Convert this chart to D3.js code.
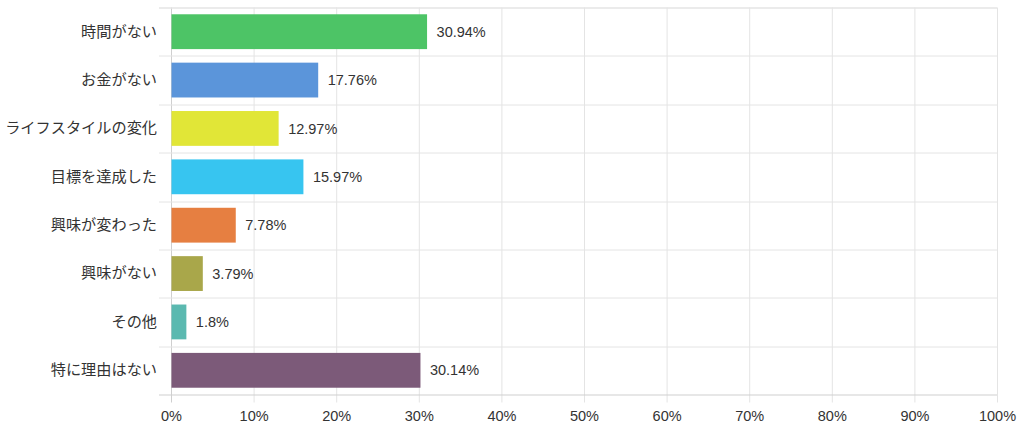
<!DOCTYPE html>
<html>
<head>
<meta charset="utf-8">
<script src="https://cdn.jsdelivr.net/npm/d3@7"></script>
<style>
  body { margin: 0; background: #fff; }
  text { font-family: "Liberation Sans", Arial, "Noto Sans CJK JP", sans-serif; fill: #333; }
  .cat text { font-family: "Noto Sans CJK JP", sans-serif; }
</style>
</head>
<body>
<div id="chart"></div>
<script>
// Data
const categories = ['時間がない', 'お金がない', 'ライフスタイルの変化', '目標を達成した', '興味が変わった', '興味がない', 'その他', '特に理由はない']
const values = [30.94, 17.76, 12.97, 15.97, 7.78, 3.79, 1.8, 30.14]
const colors = ['#4dc466', '#5b95da', '#e1e637', '#37c5f0', '#e67f41', '#a9a74a', '#5bb9b0', '#7c5a79']
const tickValues = [0, 10, 20, 30, 40, 50, 60, 70, 80, 90, 100]

async function draw(){
    const data = categories.map((c, i) => ({cat: c, value: values[i], color: colors[i]}))

    // Dimensions
    let dimensions = {
        width: 1024,
        height: 431,
        margin: { top: 7.5, bottom: 36.5, right: 27, left: 171 }
    }
    dimensions.ctrWidth = dimensions.width - dimensions.margin.left - dimensions.margin.right
    dimensions.ctrHeight = dimensions.height - dimensions.margin.top - dimensions.margin.bottom

    // Scales
    const xScale = d3.scaleLinear()
        .domain([0, 100])
        .range([0, dimensions.ctrWidth])

    const yScale = d3.scaleBand()
        .domain(categories)
        .range([0, dimensions.ctrHeight])
        .paddingInner(0.28)
        .paddingOuter(0.14)

    const band = dimensions.ctrHeight / categories.length

    // Draw
    const svg = d3.select('#chart')
        .append('svg')
        .attr('width', dimensions.width)
        .attr('height', dimensions.height)

    const ctr = svg.append('g')
        .attr('transform', `translate(${dimensions.margin.left}, ${dimensions.margin.top})`)

    // vertical grid lines (extend a little below the axis like tick marks)
    ctr.append('g')
        .selectAll('line')
        .data(tickValues)
        .join('line')
        .attr('x1', d => xScale(d) + 0.5)
        .attr('x2', d => xScale(d) + 0.5)
        .attr('y1', 0)
        .attr('y2', dimensions.ctrHeight + 8)
        .attr('stroke', d => d === 0 ? '#cfcfcf' : '#e4e4e4')
        .attr('stroke-width', 1)

    // horizontal grid lines between categories
    ctr.append('g')
        .selectAll('line')
        .data(d3.range(categories.length + 1))
        .join('line')
        .attr('x1', -12)
        .attr('x2', dimensions.ctrWidth)
        .attr('y1', i => Math.round(i * band) + 0.5)
        .attr('y2', i => Math.round(i * band) + 0.5)
        .attr('stroke', i => i === categories.length ? '#cfcfcf' : '#e4e4e4')
        .attr('stroke-width', i => i === 0 ? 1.5 : 1)

    // bars
    ctr.append('g')
        .selectAll('rect')
        .data(data)
        .join('rect')
        .attr('x', xScale(0) + 0.5)
        .attr('y', d => yScale(d.cat))
        .attr('width', d => xScale(d.value) - xScale(0))
        .attr('height', yScale.bandwidth())
        .attr('fill', d => d.color)

    // value labels
    ctr.append('g')
        .selectAll('text')
        .data(data)
        .join('text')
        .attr('x', d => xScale(d.value) + 10)
        .attr('y', d => yScale(d.cat) + yScale.bandwidth() / 2)
        .attr('dy', '0.35em')
        .style('font-size', '14.5px')
        .text(d => d.value + '%')

    // y axis labels
    const yAxis = d3.axisLeft(yScale).tickSize(0).tickPadding(14)
    const yAxisGroup = ctr.append('g')
        .attr('class', 'cat')
        .call(yAxis)
    yAxisGroup.select('.domain').remove()
    yAxisGroup.selectAll('text')
        .style('font-size', '15.2px')
        .attr('fill', '#333')

    // x axis labels
    const xAxis = d3.axisBottom(xScale)
        .tickValues(tickValues)
        .tickFormat(d => d + '%')
        .tickSize(0)
        .tickPadding(16)
    const xAxisGroup = ctr.append('g')
        .attr('transform', `translate(0, ${dimensions.ctrHeight})`)
        .call(xAxis)
    xAxisGroup.select('.domain').remove()
    xAxisGroup.selectAll('text')
        .style('font-size', '14.5px')
        .attr('fill', '#333')
}
draw()
</script>
</body>
</html>
